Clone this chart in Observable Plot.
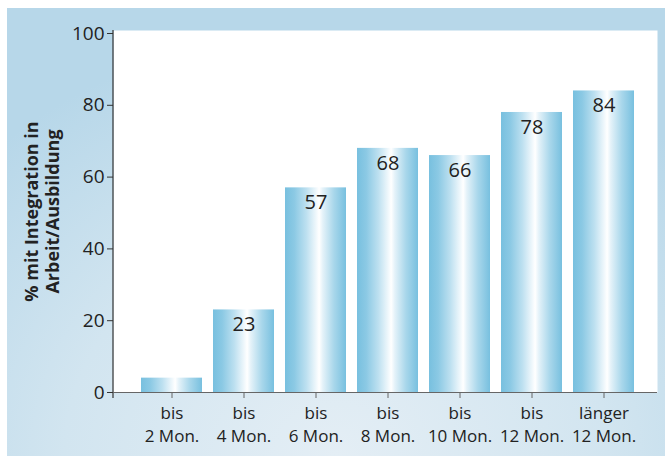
<!DOCTYPE html>
<html><head><meta charset="utf-8">
<script src="https://cdn.jsdelivr.net/npm/d3@7"></script>
<script src="https://cdn.jsdelivr.net/npm/@observablehq/plot@0.6"></script>
<style>
body{margin:0;background:#fff}
#wrap{position:relative;width:665px;height:456px;overflow:hidden}
#bg{position:absolute;left:7px;top:8px;right:0;bottom:0;background:radial-gradient(ellipse 75% 95% at 50% 100%, #e4eef5 0%, #d2e5f0 55%, #b7d7e9 100%)}
#chart{position:absolute;left:0;top:0}
</style></head><body>
<div id="wrap"><div id="bg"></div><div id="chart"></div></div>
<script>
const categories = ["bis\n2 Mon.", "bis\n4 Mon.", "bis\n6 Mon.", "bis\n8 Mon.", "bis\n10 Mon.", "bis\n12 Mon.", "länger\n12 Mon."];
const values = [4, 23, 57, 68, 66, 78, 84];
const valueLabels = ["", "23", "57", "68", "66", "78", "84"];
const yTicks = [0, 20, 40, 60, 80, 100];
const yTitle = "% mit Integration in\nArbeit/Ausbildung";

const data = categories.map((c, i) => ({cat: c, value: values[i], label: valueLabels[i]}));

function extras(index, scales, values, dim) {
  const g = d3.create("svg:g");
  const defs = g.append("defs");
  const lg = defs.append("linearGradient").attr("id", "barGrad").attr("x1", 0).attr("x2", 1).attr("y1", 0).attr("y2", 0);
  [[0, "#78c0df"], [0.15, "#8bc9e4"], [0.35, "#bde0f0"], [0.5, "#ecf6fb"], [0.56, "#ffffff"], [0.62, "#e4f2f9"], [0.8, "#a9d7eb"], [1, "#78c0df"]]
    .forEach(([o, c]) => lg.append("stop").attr("offset", o).attr("stop-color", c));
  g.append("line")
    .attr("x1", dim.marginLeft).attr("x2", dim.marginLeft)
    .attr("y1", dim.marginTop).attr("y2", dim.height - dim.marginBottom + 6)
    .attr("stroke", "#333").attr("stroke-width", 1.2);
  return g.node();
}

const chart = Plot.plot({
  width: 665,
  height: 456,
  marginLeft: 113,
  marginRight: 8,
  marginTop: 30,
  marginBottom: 64,
  style: {background: "transparent", fontFamily: "Open Sans", color: "#222"},
  x: {domain: categories, padding: 0.159, insetLeft: 14.5, insetRight: 10.5, label: null},
  y: {domain: [0, 100], insetTop: 3, label: null},
  marks: [
    Plot.frame({fill: "white", stroke: null}),
    extras,
    Plot.barY(data, {x: "cat", y: "value", fill: "url(#barGrad)"}),
    Plot.ruleY([0], {stroke: "#666", strokeWidth: 1.2}),
    Plot.text(data.filter(d => d.label), {x: "cat", y: "value", text: "label", dy: 15, fontSize: 20, fill: "#222"}),
    Plot.axisY({ticks: yTicks, tickSize: 6, tickPadding: 3, fontSize: 19, stroke: "#333", label: null}),
    Plot.axisX({tickSize: 6, tickPadding: 4, fontSize: 17, lineHeight: 1.35, stroke: "#666", label: null}),
    Plot.text([yTitle], {frameAnchor: "left", textAnchor: "middle", dx: -72, rotate: -90, fontWeight: "bold", fontSize: 18, lineHeight: 1.2, fill: "#222"})
  ]
});
document.getElementById("chart").appendChild(chart);
</script>
</body></html>
